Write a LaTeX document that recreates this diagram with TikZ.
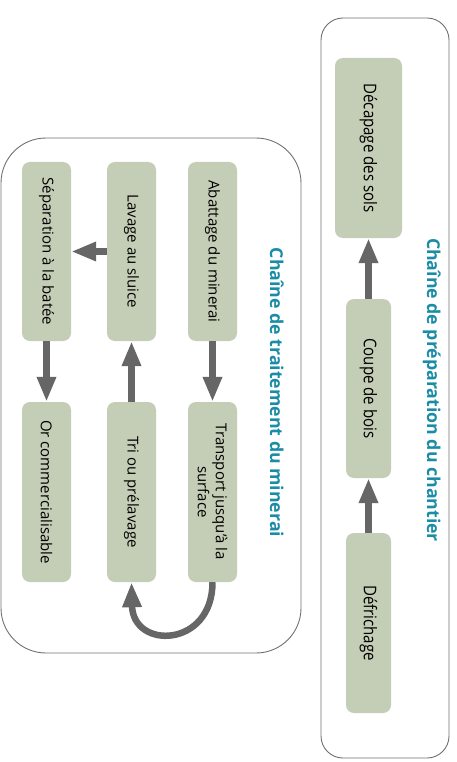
\documentclass[tikz,border=0pt]{standalone}
\usepackage{fontspec}
\setmainfont{Open Sans}
\newfontfamily\condfont[FakeStretch=0.86]{Open Sans}
\usetikzlibrary{arrows.meta}
\definecolor{boxgreen}{HTML}{C4CDB6}
\definecolor{arrowgray}{HTML}{666666}
\definecolor{titleteal}{HTML}{1A8CA6}
\definecolor{framegray}{HTML}{707070}
\begin{document}
\begin{tikzpicture}[x=1pt,y=-1pt,
  frame/.style={draw=framegray, line width=0.9pt, rounded corners=#1},
  stepbox/.style={fill=boxgreen, rounded corners=8pt, rotate=-90, inner sep=0pt,
    minimum width=179pt, minimum height=49pt, align=center, text=black,
    font=\fontsize{15}{18}\selectfont},
  condbox/.style={stepbox, font=\condfont\fontsize{17.5}{20}\selectfont},
  titletext/.style={rotate=-90, anchor=base, inner sep=0pt, text=titleteal,
    font=\bfseries\fontsize{17.7}{20}\selectfont},
  arr/.style={draw=arrowgray, line width=6.5pt, -{Triangle[width=18pt,length=25pt]}}]
\useasboundingbox (0,0) rectangle (457,762);
% frames
\draw[frame=45pt] (1,138) rectangle (301,653);
\draw[frame=22pt] (321,18) rectangle (449,758);
% titles
\node[titletext] (tleft) at (270,392.5) {Chaîne de traitement du minerai};
\node[titletext] (tright) at (427,390) {Chaîne de préparation du chantier};
% right chain
\node[condbox, minimum width=180pt, minimum height=67pt] (dec) at (368.5,148) {Décapage des sols};
\node[condbox, minimum height=45pt] (coupe) at (368.5,388.5) {Coupe de bois};
\node[condbox, minimum width=180pt, minimum height=45pt] (def) at (368.5,623) {Défrichage};
% left chain
\node[stepbox] (abat) at (212.5,251.5) {Abattage du minerai};
\node[stepbox] (lav) at (131.5,251.5) {Lavage au sluice};
\node[stepbox] (sep) at (46.5,251.5) {Séparation à la batée};
\node[stepbox, minimum width=180pt] (trans) at (212.5,492) {Transport jusqu'à la\\surface};
\node[stepbox, minimum width=180pt] (tri) at (131.5,492) {Tri ou prélavage};
\node[stepbox, minimum width=180pt] (or) at (46.5,492) {Or commercialisable};
% arrows
\draw[arr] (coupe.west) -- (dec.east);
\draw[arr] (def.west) -- (coupe.east);
\draw[arr] (abat.east) -- (trans.west);
\draw[arr] (tri.west) -- (lav.east);
\draw[arr] (lav.south) -- (sep.north);
\draw[arr] (sep.east) -- (or.west);
\draw[arr] (trans.east) .. controls (212.5,648) and (133,650) .. (tri.east);
\end{tikzpicture}
\end{document}
